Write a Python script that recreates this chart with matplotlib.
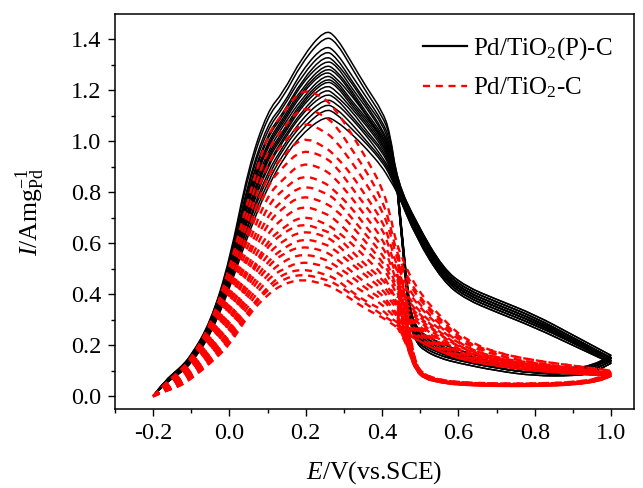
# CV cycles of Pd/TiO2(P)-C and Pd/TiO2-C
import matplotlib
matplotlib.use("Agg")
import matplotlib.pyplot as plt
from matplotlib.path import Path
from matplotlib.patches import PathPatch

plt.rcParams['font.family'] = 'serif'
plt.rcParams['font.serif'] = ['Liberation Serif', 'DejaVu Serif']
plt.rcParams['mathtext.fontset'] = 'custom'
plt.rcParams['mathtext.rm'] = 'Liberation Serif'
plt.rcParams['mathtext.it'] = 'Liberation Serif:italic'

# Potential grid of the forward scans (V vs. SCE)
e_fwd = [-0.2, -0.17, -0.13, -0.1, -0.05, 0.0, 0.05, 0.1, 0.14, 0.19, 0.25, 0.28,
         0.32, 0.36, 0.40, 0.42, 0.44, 0.49, 0.56, 0.62, 0.7, 0.8, 0.9, 1.0]
# Potential grid of the backward scans
e_rev_black = [1.0, 0.95, 0.9, 0.8, 0.7, 0.6, 0.55, 0.51, 0.49, 0.475, 0.465, 0.455, 0.445]
e_rev_red = [1.0, 0.97, 0.9, 0.8, 0.7, 0.6, 0.55, 0.51, 0.49, 0.475, 0.465]
e_join = 0.44

# Pd/TiO2(P)-C forward currents, one row per cycle (A mg-1 Pd)
black_fwd = [
    [0, .06, .11, .16, .29, .53, .90, 1.12, 1.19, 1.33, 1.44, 1.41, 1.31, 1.21, 1.12, 1.04, .84, .68, .50, .43, .38, .32, .24, .16],
    [0, .06, .11, .16, .29, .52, .88, 1.10, 1.17, 1.31, 1.415, 1.39, 1.29, 1.19, 1.10, 1.03, .84, .68, .50, .43, .38, .32, .24, .16],
    [0, .06, .11, .15, .28, .51, .85, 1.07, 1.14, 1.28, 1.38, 1.35, 1.26, 1.17, 1.08, 1.01, .83, .67, .49, .42, .37, .31, .23, .15],
    [0, .06, .11, .15, .28, .50, .84, 1.05, 1.13, 1.26, 1.36, 1.33, 1.24, 1.15, 1.07, .99, .83, .67, .49, .42, .37, .31, .23, .15],
    [0, .06, .10, .15, .28, .50, .82, 1.03, 1.11, 1.24, 1.34, 1.31, 1.23, 1.14, 1.05, .98, .83, .66, .49, .42, .37, .31, .23, .15],
    [0, .06, .10, .15, .27, .49, .81, 1.02, 1.10, 1.23, 1.32, 1.30, 1.21, 1.13, 1.04, .97, .83, .66, .48, .41, .36, .30, .23, .15],
    [0, .06, .10, .15, .27, .49, .80, 1.00, 1.09, 1.21, 1.305, 1.28, 1.20, 1.11, 1.03, .96, .82, .66, .48, .41, .36, .30, .22, .15],
    [0, .06, .10, .15, .27, .48, .79, .99, 1.08, 1.20, 1.29, 1.27, 1.19, 1.10, 1.02, .96, .82, .65, .48, .41, .36, .30, .22, .15],
    [0, .06, .10, .15, .27, .48, .78, .98, 1.07, 1.19, 1.28, 1.25, 1.18, 1.10, 1.01, .95, .82, .65, .48, .41, .36, .30, .22, .15],
    [0, .05, .10, .14, .26, .47, .77, .96, 1.06, 1.17, 1.265, 1.24, 1.16, 1.09, 1.01, .94, .82, .65, .47, .40, .35, .29, .22, .14],
    [0, .05, .10, .14, .26, .47, .75, .95, 1.04, 1.16, 1.25, 1.23, 1.15, 1.08, 1.00, .93, .82, .65, .47, .40, .35, .29, .22, .14],
    [0, .05, .10, .14, .26, .46, .74, .94, 1.03, 1.15, 1.24, 1.22, 1.14, 1.07, .99, .93, .82, .64, .47, .40, .35, .29, .22, .14],
    [0, .05, .10, .14, .26, .46, .73, .93, 1.02, 1.14, 1.225, 1.20, 1.13, 1.06, .98, .92, .81, .64, .47, .40, .35, .29, .21, .14],
    [0, .05, .10, .14, .26, .45, .72, .91, 1.01, 1.12, 1.21, 1.18, 1.12, 1.04, .97, .91, .81, .64, .47, .40, .35, .29, .21, .14],
    [0, .05, .09, .14, .25, .45, .71, .90, 1.00, 1.11, 1.19, 1.17, 1.10, 1.03, .96, .90, .81, .64, .46, .39, .34, .28, .21, .14],
    [0, .05, .09, .14, .25, .44, .69, .88, .98, 1.09, 1.17, 1.15, 1.09, 1.02, .94, .89, .81, .63, .46, .39, .34, .28, .21, .14],
    [0, .05, .09, .13, .25, .44, .68, .86, .97, 1.07, 1.15, 1.13, 1.07, 1.00, .93, .88, .81, .63, .46, .39, .34, .28, .21, .13],
    [0, .05, .09, .13, .24, .43, .66, .84, .95, 1.05, 1.13, 1.11, 1.05, .99, .92, .87, .80, .62, .45, .38, .33, .27, .20, .13],
    [0, .05, .09, .13, .24, .42, .64, .82, .93, 1.03, 1.10, 1.08, 1.03, .97, .90, .85, .80, .62, .45, .38, .33, .27, .20, .13],
]

# Pd/TiO2(P)-C backward currents, one row per cycle
black_rev = [
    [.16, .12, .11, .12, .14, .18, .21, .24, .27, .33, .45, .60, .75],
    [.16, .12, .11, .12, .14, .18, .21, .24, .27, .33, .45, .60, .75],
    [.15, .12, .10, .11, .13, .17, .20, .23, .26, .32, .44, .59, .74],
    [.15, .11, .10, .11, .13, .17, .20, .23, .26, .32, .44, .59, .74],
    [.15, .11, .10, .11, .13, .17, .19, .22, .25, .31, .44, .59, .74],
    [.15, .11, .10, .11, .13, .16, .19, .22, .25, .31, .43, .59, .74],
    [.15, .11, .10, .10, .12, .16, .19, .22, .25, .31, .43, .58, .74],
    [.15, .11, .10, .10, .12, .16, .18, .21, .24, .30, .43, .58, .74],
    [.15, .11, .10, .10, .12, .16, .18, .21, .24, .30, .43, .58, .74],
    [.14, .10, .09, .10, .12, .15, .18, .21, .24, .30, .42, .58, .73],
    [.14, .10, .09, .10, .12, .15, .18, .21, .24, .30, .42, .58, .73],
    [.14, .10, .09, .10, .12, .15, .17, .20, .23, .29, .42, .58, .73],
    [.14, .10, .09, .09, .11, .15, .17, .20, .23, .29, .42, .57, .73],
    [.14, .10, .09, .09, .11, .15, .17, .20, .23, .29, .42, .57, .73],
    [.14, .10, .09, .09, .11, .14, .17, .20, .23, .29, .41, .57, .73],
    [.14, .10, .09, .09, .11, .14, .16, .19, .22, .28, .41, .57, .73],
    [.13, .09, .08, .09, .11, .14, .16, .19, .22, .28, .41, .57, .72],
    [.13, .09, .08, .08, .10, .13, .15, .18, .21, .27, .40, .56, .72],
    [.13, .09, .08, .08, .10, .13, .15, .18, .21, .27, .40, .56, .72],
]

# Pd/TiO2-C forward currents, one row per cycle
red_fwd = [
    [0, .05, .10, .15, .28, .50, .78, 1.03, 1.11, 1.21, 1.17, 1.12, 1.03, .93, .82, .72, .58, .42, .30, .22, .17, .14, .12, .10],
    [0, .05, .09, .14, .27, .47, .74, .97, 1.05, 1.14, 1.10, 1.06, .97, .88, .77, .68, .55, .40, .29, .21, .17, .14, .12, .10],
    [0, .05, .09, .14, .25, .45, .70, .92, .99, 1.08, 1.04, 1.00, .92, .83, .73, .65, .53, .39, .28, .21, .16, .13, .11, .10],
    [0, .04, .08, .13, .24, .42, .66, .87, .94, 1.02, .98, .94, .87, .78, .69, .61, .50, .37, .27, .20, .16, .13, .11, .09],
    [0, .04, .08, .12, .23, .40, .63, .83, .90, .97, .94, .90, .82, .74, .66, .58, .48, .36, .26, .19, .15, .13, .11, .09],
    [0, .04, .08, .12, .22, .38, .60, .79, .85, .92, .89, .85, .78, .70, .62, .55, .46, .34, .25, .19, .15, .12, .11, .09],
    [0, .04, .07, .11, .21, .36, .57, .75, .81, .87, .84, .80, .74, .66, .59, .53, .44, .33, .24, .18, .15, .12, .11, .09],
    [0, .03, .07, .11, .20, .35, .55, .71, .77, .83, .80, .77, .70, .63, .56, .50, .42, .32, .23, .18, .14, .12, .10, .09],
    [0, .03, .07, .10, .20, .33, .52, .68, .74, .79, .76, .73, .67, .60, .53, .48, .41, .31, .23, .18, .14, .12, .10, .09],
    [0, .03, .06, .10, .19, .32, .50, .64, .70, .75, .72, .69, .63, .57, .51, .46, .39, .30, .22, .17, .14, .12, .10, .09],
    [0, .03, .06, .10, .18, .30, .47, .61, .66, .71, .68, .65, .60, .54, .48, .43, .37, .29, .21, .17, .14, .11, .10, .09],
    [0, .03, .06, .09, .17, .29, .46, .59, .64, .68, .65, .63, .57, .51, .46, .42, .36, .28, .21, .16, .14, .11, .10, .09],
    [0, .03, .06, .09, .17, .28, .44, .56, .61, .65, .63, .60, .54, .49, .44, .40, .35, .27, .20, .16, .13, .11, .10, .09],
    [0, .03, .05, .09, .16, .26, .42, .53, .58, .62, .60, .57, .52, .47, .42, .38, .34, .26, .20, .16, .13, .11, .10, .08],
    [0, .02, .05, .08, .16, .25, .40, .51, .56, .59, .57, .54, .49, .44, .40, .36, .32, .26, .19, .15, .13, .11, .10, .08],
    [0, .02, .05, .08, .15, .24, .38, .48, .53, .56, .54, .51, .47, .42, .38, .35, .31, .25, .19, .15, .13, .11, .09, .08],
    [0, .02, .05, .08, .14, .23, .36, .46, .50, .53, .51, .49, .44, .40, .36, .33, .30, .24, .18, .15, .12, .10, .09, .08],
    [0, .02, .04, .07, .14, .22, .34, .43, .48, .50, .48, .46, .41, .37, .34, .31, .29, .23, .18, .14, .12, .10, .09, .08],
    [0, .02, .04, .07, .13, .21, .33, .42, .46, .48, .46, .44, .40, .36, .32, .30, .28, .22, .17, .14, .12, .10, .09, .08],
    [0, .02, .04, .07, .13, .20, .32, .40, .44, .46, .44, .42, .38, .34, .31, .29, .27, .22, .17, .14, .12, .10, .09, .08],
]

# Pd/TiO2-C backward currents, one row per cycle
red_rev = [
    [.100, .070, .055, .050, .050, .055, .065, .085, .120, .220, .350],
    [.098, .069, .054, .049, .049, .054, .064, .084, .118, .213, .336],
    [.097, .068, .053, .048, .048, .053, .063, .082, .117, .208, .324],
    [.095, .067, .052, .047, .047, .052, .062, .081, .115, .202, .312],
    [.094, .067, .052, .047, .047, .052, .062, .080, .114, .198, .302],
    [.092, .066, .051, .046, .046, .051, .061, .079, .112, .193, .292],
    [.091, .065, .050, .045, .045, .050, .060, .078, .111, .188, .282],
    [.090, .065, .050, .045, .045, .050, .060, .077, .110, .185, .274],
    [.089, .064, .049, .044, .044, .049, .059, .077, .109, .181, .266],
    [.088, .064, .049, .044, .044, .049, .059, .076, .108, .177, .258],
    [.087, .063, .048, .043, .043, .048, .058, .075, .107, .173, .250],
    [.086, .063, .048, .043, .043, .048, .058, .074, .106, .171, .244],
    [.085, .063, .048, .043, .043, .048, .058, .074, .105, .168, .238],
    [.084, .062, .047, .042, .042, .047, .057, .073, .104, .165, .232],
    [.083, .062, .047, .042, .042, .047, .057, .073, .103, .162, .226],
    [.083, .061, .046, .041, .041, .046, .056, .072, .103, .159, .220],
    [.082, .061, .046, .041, .041, .046, .056, .071, .102, .157, .214],
    [.081, .061, .046, .041, .041, .046, .056, .071, .101, .154, .208],
    [.081, .060, .045, .040, .040, .045, .055, .070, .101, .152, .204],
    [.080, .060, .045, .040, .040, .045, .055, .070, .100, .150, .200],
]


def smooth_loop(x, y):
    # quadratic bezier path: data points act as control points
    verts = [(x[0], y[0])]
    codes = [Path.MOVETO]
    for i in range(1, len(x) - 1):
        verts.append((x[i], y[i]))
        verts.append(((x[i] + x[i + 1]) / 2, (y[i] + y[i + 1]) / 2))
        codes += [Path.CURVE3, Path.CURVE3]
    verts.append((x[-1], y[-1]))
    codes.append(Path.LINETO)
    return Path(verts, codes)


fig = plt.figure(figsize=(6.43, 4.88), dpi=100)
ax = fig.add_axes([0.1788, 0.1619, 0.8072, 0.8094])

red_style = (0, (3.0, 2.4))

# Black solid loops
for i in range(len(black_fwd)):
    fwd = black_fwd[i]
    x = e_fwd + e_rev_black + [e_join]
    y = fwd + black_rev[i] + [fwd[e_fwd.index(e_join)]]
    ax.add_patch(PathPatch(smooth_loop(x, y), fill=False, edgecolor='black', lw=1.1))

# Red dashed loops
for i in range(len(red_fwd)):
    fwd = red_fwd[i]
    x = e_fwd + e_rev_red + [e_join]
    y = fwd + red_rev[i] + [fwd[e_fwd.index(e_join)]]
    ax.add_patch(PathPatch(smooth_loop(x, y), fill=False, edgecolor='red', lw=1.7,
                           linestyle=red_style))

# legend entries
ax.plot([], [], color='black', lw=1.6, label='Pd/TiO$_2$(P)-C')
ax.plot([], [], color='red', lw=1.7, linestyle=red_style, label='Pd/TiO$_2$-C')

ax.set_xlim(-0.297, 1.06)
ax.set_ylim(-0.05, 1.5)
ax.set_xticks([-0.2, 0.0, 0.2, 0.4, 0.6, 0.8, 1.0])
ax.set_xticks([-0.3, -0.1, 0.1, 0.3, 0.5, 0.7, 0.9], minor=True)
ax.set_yticks([0.0, 0.2, 0.4, 0.6, 0.8, 1.0, 1.2, 1.4])
ax.set_yticks([0.1, 0.3, 0.5, 0.7, 0.9, 1.1, 1.3], minor=True)
ax.set_xticklabels(['-0.2', '0.0', '0.2', '0.4', '0.6', '0.8', '1.0'])
ax.set_yticklabels(['0.0', '0.2', '0.4', '0.6', '0.8', '1.0', '1.2', '1.4'])
ax.tick_params(which='major', direction='out', length=5, width=1.0, labelsize=17.5, pad=5)
ax.tick_params(which='minor', direction='out', length=3, width=1.0)
for s in ax.spines.values():
    s.set_linewidth(1.1)

ax.set_xlabel('$E$/V(vs.SCE)', fontsize=18.5, labelpad=11)
ax.set_ylabel('$I$/Amg$_{\\mathrm{Pd}}^{-1}$', fontsize=18.5, labelpad=17)

ax.legend(loc='upper right', frameon=False, fontsize=18, handlelength=1.75,
          handletextpad=0.25, labelspacing=0.55, borderaxespad=0.45)

fig.savefig('out.png', dpi=100)
